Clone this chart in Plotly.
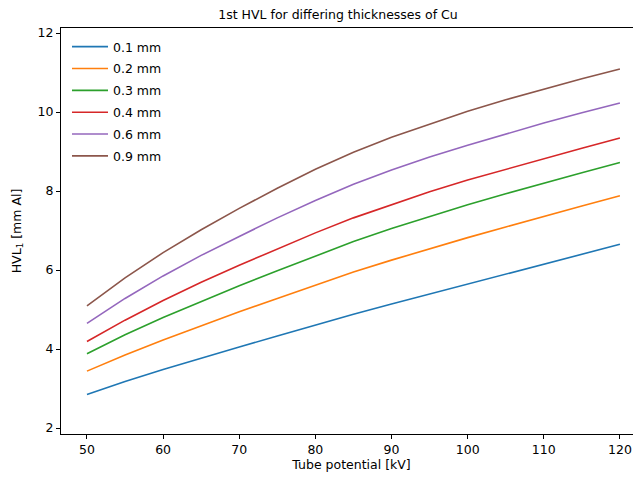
import plotly.graph_objects as go

kv = [50, 55, 60, 65, 70, 75, 80, 85, 90, 95, 100, 105, 110, 115, 120]
labels = ["0.1 mm", "0.2 mm", "0.3 mm", "0.4 mm", "0.6 mm", "0.9 mm"]
cu_01 = [2.85, 3.18, 3.48, 3.77, 4.05, 4.33, 4.61, 4.88, 5.14, 5.39, 5.65, 5.90, 6.15, 6.40, 6.65]
cu_02 = [3.44, 3.85, 4.23, 4.59, 4.94, 5.28, 5.62, 5.95, 6.25, 6.54, 6.82, 7.09, 7.36, 7.62, 7.88]
cu_03 = [3.88, 4.36, 4.80, 5.21, 5.60, 5.98, 6.36, 6.72, 7.05, 7.36, 7.65, 7.93, 8.20, 8.46, 8.72]
cu_04 = [4.19, 4.73, 5.23, 5.69, 6.12, 6.54, 6.94, 7.32, 7.66, 7.98, 8.28, 8.55, 8.82, 9.08, 9.34]
cu_06 = [4.65, 5.28, 5.85, 6.37, 6.85, 7.32, 7.76, 8.17, 8.53, 8.86, 9.16, 9.44, 9.72, 9.98, 10.23]
cu_09 = [5.09, 5.80, 6.44, 7.02, 7.56, 8.07, 8.55, 8.98, 9.36, 9.70, 10.02, 10.31, 10.58, 10.84, 11.09]
series = [cu_01, cu_02, cu_03, cu_04, cu_06, cu_09]
colors = ["#1f77b4", "#ff7f0e", "#2ca02c", "#d62728", "#9467bd", "#8c564b"]

fig = go.Figure()
for i, (lab, ys, c) in enumerate(zip(labels, series, colors)):
    fig.add_trace(go.Scatter(x=kv, y=ys, mode="lines", name=lab,
                             line=dict(color=c, width=1.6), legendgroup=str(i)))

W, H = 634, 474
font = "DejaVu Sans"
fig.update_layout(
    width=W, height=H,
    margin=dict(l=53, r=0, t=20, b=48, autoexpand=False),
    paper_bgcolor="white", plot_bgcolor="white",
    font=dict(family=font, size=12.5, color="black"),
    title=dict(text="1st HVL for differing thicknesses of Cu", x=330/W, xanchor="center",
               y=1 - 7/H, yanchor="middle", font=dict(size=12.5, color="black")),
    xaxis=dict(range=[46.59, 122.9], tickvals=[50, 60, 70, 80, 90, 100, 110, 120],
               showgrid=False, zeroline=False, showline=True, linecolor="black", linewidth=1,
               mirror=True, ticks="outside", ticklen=4, tickcolor="black", automargin=False,
               title=dict(text="Tube potential [kV]", standoff=4, font=dict(size=12.5))),
    yaxis=dict(range=[1.848, 12.127], tickvals=[2, 4, 6, 8, 10, 12],
               showgrid=False, zeroline=False, showline=True, linecolor="black", linewidth=1,
               ticks="outside", ticklen=4, tickcolor="black", automargin=False,
               title=dict(text="HVL<sub>1</sub> [mm Al]", standoff=13, font=dict(size=12.5))),
    legend=dict(x=6/581, y=1 - 4/406, xanchor="left", yanchor="top",
                bgcolor="rgba(255,255,255,0.8)", borderwidth=0, itemwidth=36,
                font=dict(size=12.5), tracegroupgap=2.6),
    showlegend=True,
)
fig.write_html("out.html")
